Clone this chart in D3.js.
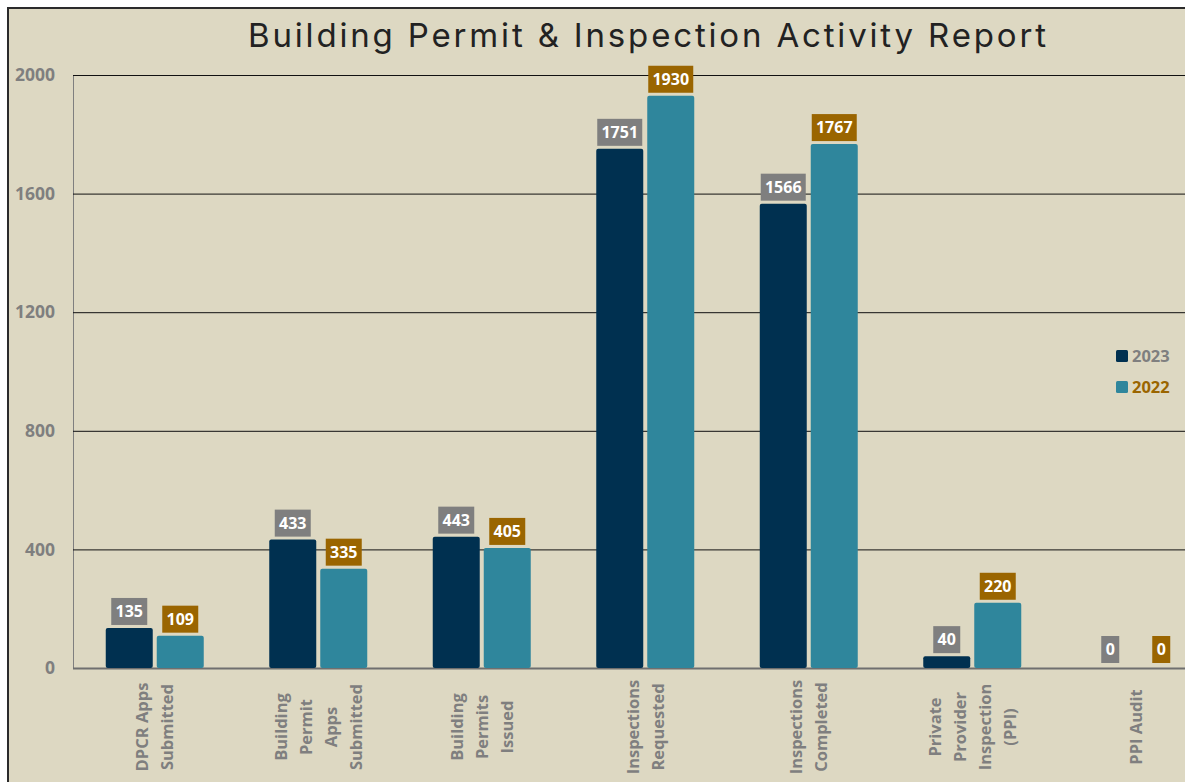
<!DOCTYPE html>
<html lang="en">
<head>
  <meta charset="UTF-8">
  <title>Building Permit & Inspection Activity Report</title>
  <script src="https://d3js.org/d3.v7.min.js"></script>
  <style>
    body { margin: 0; background: #ffffff; }
    svg { display: block; }
  </style>
</head>
<body>
  <div id="chart"></div>
  <script>
    const categories = [
      "DPCR Apps\nSubmitted",
      "Building\nPermit\nApps\nSubmitted",
      "Building\nPermits\nIssued",
      "Inspections\nRequested",
      "Inspections\nCompleted",
      "Private\nProvider\nInspection\n(PPI)",
      "PPI Audit"
    ]
    const seriesNames = ["2023", "2022"]
    const values2023 = [135, 433, 443, 1751, 1566, 40, 0]
    const values2022 = [109, 335, 405, 1930, 1767, 220, 0]
    const yTicks = [0, 400, 800, 1200, 1600, 2000]

    const width = 1185
    const height = 782
    const bg = '#ddd8c2'
    const barColors = { "2023": '#003050', "2022": '#2f869c' }
    const boxColors = { "2023": '#7f7f7f', "2022": '#9a6500' }
    const font = "'Open Sans', 'Noto Sans', sans-serif"

    const rows = categories.map((c, i) => ({
      cat: c,
      vals: [
        { s: "2023", v: values2023[i] },
        { s: "2022", v: values2022[i] }
      ]
    }))

    const svg = d3.select('#chart').append('svg')
      .attr('width', width)
      .attr('height', height)

    svg.append('rect')
      .attr('width', width).attr('height', height)
      .attr('fill', '#ffffff')

    // panel with dark frame
    svg.append('rect')
      .attr('x', 8).attr('y', 8)
      .attr('width', width + 20).attr('height', height + 20)
      .attr('fill', bg)
      .attr('stroke', '#2b2b2b')
      .attr('stroke-width', 2)

    svg.append('text')
      .attr('x', 647)
      .attr('y', 47)
      .attr('text-anchor', 'middle')
      .attr('font-family', "Inter, 'Open Sans', sans-serif")
      .attr('font-size', 33)
      .attr('fill', '#222')
      .attr('textLength', 798)
      .attr('lengthAdjust', 'spacing')
      .text('Building Permit & Inspection Activity Report')

    const x0 = d3.scaleBand()
      .domain(categories)
      .range([73, 73 + 7 * 163.5])
      .padding(0)

    const groupW = 98
    const x1 = d3.scaleBand()
      .domain(seriesNames)
      .range([0, groupW])
      .paddingInner(4 / 51)

    const y = d3.scaleLinear()
      .domain([0, 2000])
      .range([668, 75])

    // gridlines
    const yAxis = d3.axisLeft(y)
      .tickValues(yTicks)
      .tickSize(-(width - 73))
      .tickFormat(d => d)

    const gy = svg.append('g')
      .attr('transform', 'translate(73,0)')
      .call(yAxis)
    gy.select('.domain').attr('stroke', '#7f7f7f').attr('stroke-width', 1)
    gy.selectAll('.tick line')
      .attr('stroke', d => d === 0 ? '#6f6f6f' : '#111')
      .attr('stroke-width', d => d === 0 ? 2 : 1)
    gy.selectAll('.tick text')
      .attr('x', -18)
      .attr('font-family', font)
      .attr('font-weight', 700)
      .attr('font-size', 17.5)
      .attr('fill', '#7f7f7f')

    const groups = svg.append('g')
      .selectAll('g')
      .data(rows)
      .join('g')
      .attr('transform', d => `translate(${x0(d.cat) + (x0.bandwidth() - groupW) / 2},0)`)

    groups.selectAll('rect.bar')
      .data(d => d.vals.filter(e => e.v > 0))
      .join('rect')
      .attr('class', 'bar')
      .attr('x', e => x1(e.s))
      .attr('y', e => y(e.v))
      .attr('width', x1.bandwidth())
      .attr('height', e => y(0) - y(e.v))
      .attr('rx', 2)
      .attr('fill', e => barColors[e.s])

    // value labels in boxes
    const labels = groups.selectAll('g.lab')
      .data(d => d.vals)
      .join('g')
      .attr('class', 'lab')
      .attr('transform', e => `translate(${x1(e.s) + x1.bandwidth() / 2},${y(e.v) - (e.v === 0 ? 5 : 3)})`)

    labels.append('rect')
      .attr('x', e => -(String(e.v).length * 9 + 9) / 2)
      .attr('y', -27)
      .attr('width', e => String(e.v).length * 9 + 9)
      .attr('height', 27)
      .attr('fill', e => boxColors[e.s])

    labels.append('text')
      .attr('y', -8)
      .attr('text-anchor', 'middle')
      .attr('font-family', font)
      .attr('font-weight', 700)
      .attr('font-size', 16)
      .attr('fill', '#ffffff')
      .text(e => e.v)

    // category labels, rotated
    const catG = svg.append('g')
    rows.forEach(r => {
      const lines = r.cat.split('\n')
      const cx = x0(r.cat) + x0.bandwidth() / 2
      lines.forEach((ln, i) => {
        const lx = cx + (i - (lines.length - 1) / 2) * 25
        catG.append('text')
          .attr('transform', `translate(${lx},727) rotate(-90)`)
          .attr('text-anchor', 'middle')
          .attr('dy', '0.35em')
          .attr('font-family', font)
          .attr('font-weight', 700)
          .attr('font-size', 16.5)
          .attr('fill', '#7f7f7f')
          .text(ln)
      })
    })

    // legend
    const legend = svg.append('g')
      .attr('transform', 'translate(1116,350)')
    seriesNames.forEach((s, i) => {
      legend.append('rect')
        .attr('x', 0).attr('y', i * 31)
        .attr('width', 12).attr('height', 12)
        .attr('rx', 1.5)
        .attr('fill', barColors[s])
      legend.append('text')
        .attr('x', 16).attr('y', i * 31 + 12)
        .attr('font-family', font)
        .attr('font-weight', 700)
        .attr('font-size', 16.5)
        .attr('fill', boxColors[s])
        .text(s)
    })
  </script>
</body>
</html>
